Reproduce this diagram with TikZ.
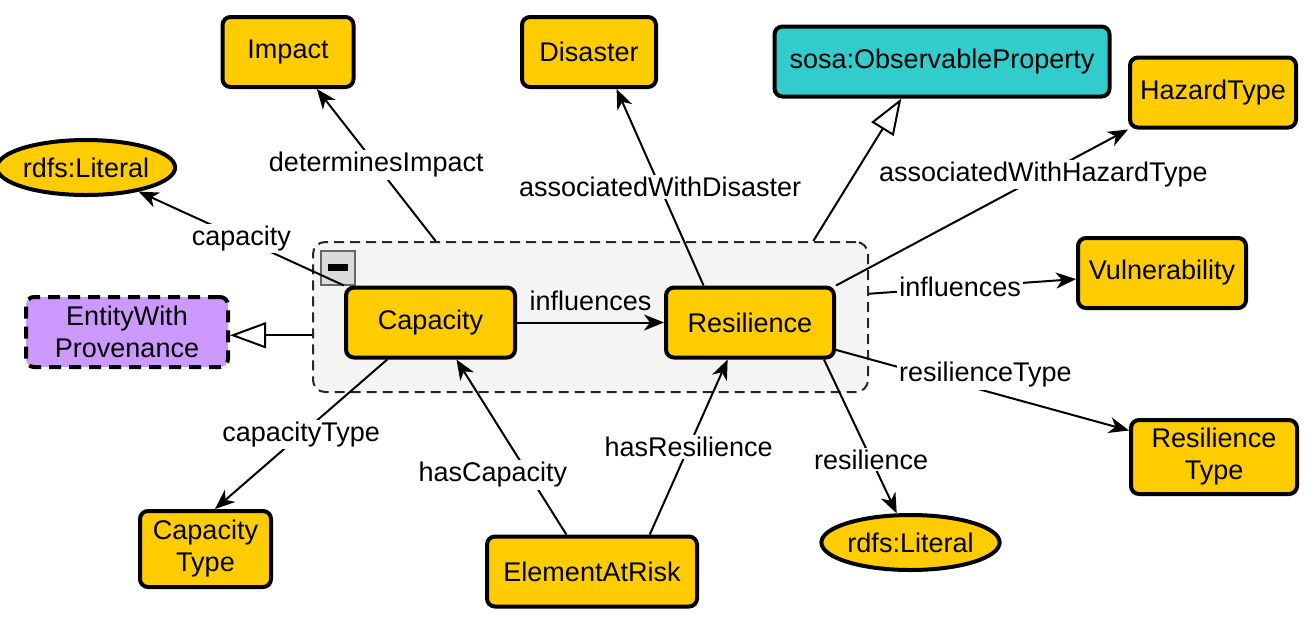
\documentclass[tikz,border=0pt]{standalone}
\usepackage{fontspec}
\setmainfont{Liberation Sans}
\usetikzlibrary{positioning,arrows.meta,calc,shapes.geometric}
\definecolor{clsyellow}{HTML}{FFCC00}
\definecolor{obscyan}{HTML}{33CCCC}
\definecolor{provpurple}{HTML}{CC99FF}
\definecolor{grpgray}{HTML}{F4F4F4}

\begin{document}
\begin{tikzpicture}[x=.5pt,y=-.5pt,font=\fontsize{13.5}{16}\selectfont,
  cls/.style={draw,line width=2pt,rounded corners=4pt,fill=clsyellow,
    minimum height=35pt,inner sep=2pt,align=center},
  lit/.style={ellipse,draw,line width=2pt,fill=clsyellow,minimum height=27.5pt,inner sep=0pt},
  grp/.style={draw=black!85,fill=grpgray,line width=1pt,dash pattern=on 5pt off 3pt,
    rounded corners=6pt,minimum width=277.5pt,minimum height=75pt},
  tog/.style={draw=black!60,fill=black!14,line width=1pt,minimum size=17pt,inner sep=0pt},
  rel/.style={-{Stealth[length=10pt,width=8pt,inset=3pt]},line width=1pt},
  sub/.style={-{Triangle[length=18pt,width=13pt,fill=white]},line width=1pt},
  lbl/.style={fill=white,inner sep=1pt}]
\useasboundingbox (0,0) rectangle (1309,617);
% Group around Capacity and Resilience.
\node[grp] (grp) at (590.5,317) {};
\node[tog] (fold) at (337.5,267.5) {\rule{10pt}{3.5pt}};
% Classes.
\node[cls,minimum width=65.5pt] (imp) at (288,52) {Impact};
\node[cls,minimum width=67pt] (dis) at (589,52) {Disaster};
\node[cls,fill=obscyan,minimum width=167.5pt] (obs) at (942,61.5) {sosa:ObservableProperty};
\node[cls,minimum width=83pt] (haz) at (1213,92.5) {HazardType};
\node[lit,minimum width=84pt] (litc) at (86,167.5) {rdfs:Literal};
\node[cls,minimum width=84.5pt] (cap) at (430.5,322.5) {Capacity};
\node[cls,minimum width=84pt] (res) at (750,322.5) {Resilience};
\node[cls,minimum width=84pt] (vul) at (1162,273) {Vulnerability};
\node[cls,fill=provpurple,dash pattern=on 6pt off 4pt,minimum width=101pt] (ewp) at (127,332) {EntityWith\\Provenance};
\node[cls,minimum width=83pt,minimum height=37pt] (rty) at (1214,457) {Resilience\\Type};
\node[cls,minimum width=65.5pt,minimum height=38pt] (cty) at (205.5,549) {Capacity\\Type};
\node[cls,minimum width=105pt] (ear) at (592,571.5) {ElementAtRisk};
\node[lit,minimum width=87.5pt] (litr) at (910.5,542.5) {rdfs:Literal};
% Subclass links from the group.
\coordinate (gw) at ($(grp.north west)!.62!(grp.south west)$);
\draw[sub] (gw) -- (gw -| ewp.east);
\draw[sub] ($(grp.north west)!.9!(grp.north east)$) -- ($(obs.south west)!.38!(obs.south east)$);
% Properties.
\draw[rel] ($(grp.north west)!.222!(grp.north east)$) -- node[lbl,pos=.5]{determinesImpact} (imp);
\draw[rel] (cap.north west) -- node[lbl,pos=.5]{capacity} (litc);
\draw[rel] ($(res.north west)!.23!(res.north east)$) -- node[lbl,pos=.5]{associatedWithDisaster} ($(dis.south west)!.7!(dis.south east)$);
\draw[rel] (res.north east) -- node[lbl,pos=.71]{associatedWithHazardType} (haz.south west);
\draw[rel] ($(grp.north east)!.347!(grp.south east)$) -- node[lbl,pos=.44]{influences} (vul);
\draw[rel] (cap) -- node[above=2pt]{influences} (res);
\draw[rel] ($(res.north east)!.87!(res.south east)$) -- node[lbl,pos=.51,yshift=8pt]{resilienceType} ($(rty.north west)!.16!(rty.south west)$);
\draw[rel] ($(res.south west)!.93!(res.south east)$) -- node[lbl,pos=.65]{resilience} (litr);
\draw[rel] ($(cap.south west)!.25!(cap.south east)$) -- node[lbl,pos=.5]{capacityType} ($(cty.north west)!.57!(cty.north east)$);
\draw[rel] ($(ear.north west)!.38!(ear.north east)$) -- node[lbl,pos=.34,xshift=-18pt]{hasCapacity} ($(cap.south west)!.65!(cap.south east)$);
\draw[rel] ($(ear.north west)!.77!(ear.north east)$) -- node[lbl,pos=.5]{hasResilience} ($(res.south west)!.37!(res.south east)$);
\end{tikzpicture}
\end{document}
